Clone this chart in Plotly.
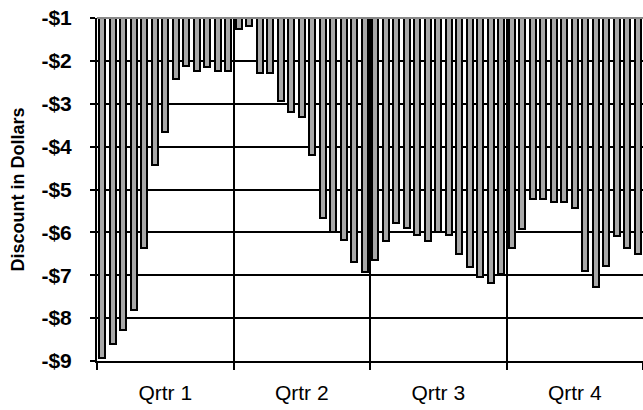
import plotly.graph_objects as go

# Weekly discount values (dollars), 13 weeks per quarter
q1 = [-8.93, -8.60, -8.28, -7.80, -6.37, -4.42, -3.65, -2.42, -2.12, -2.23, -2.15, -2.23, -2.23]
q2 = [-1.26, -1.19, -2.28, -2.28, -2.93, -3.20, -3.32, -4.20, -5.66, -6.00, -6.17, -6.70, -6.93]
q3 = [-6.65, -6.19, -5.79, -5.90, -6.07, -6.19, -5.98, -6.07, -6.51, -6.81, -7.05, -7.19, -6.97]
q4 = [-6.37, -5.93, -5.21, -5.21, -5.30, -5.30, -5.42, -6.90, -7.28, -6.79, -6.09, -6.37, -6.51]

quarter_labels = ["Qrtr 1", "Qrtr 2", "Qrtr 3", "Qrtr 4"]
y_tick_values = [-9, -8, -7, -6, -5, -4, -3, -2, -1]
y_tick_labels = ["-$9", "-$8", "-$7", "-$6", "-$5", "-$4", "-$3", "-$2", "-$1"]
y_title = "Discount in Dollars"

values = q1 + q2 + q3 + q4
weeks = list(range(1, len(values) + 1))
weeks_per_q = len(q1)
quarter_centers = [weeks_per_q * i + (weeks_per_q + 1) / 2 for i in range(4)]

fig = go.Figure()
fig.add_trace(go.Bar(
    x=weeks, y=values,
    width=0.55,
    marker=dict(color="#a8a8a8", line=dict(color="black", width=2)),
    showlegend=False,
))

fig.update_layout(
    width=643, height=410,
    margin=dict(l=97, r=0, t=18, b=49, autoexpand=False),
    paper_bgcolor="white", plot_bgcolor="white",
    bargap=0,
    font=dict(family="Liberation Sans, Arial, sans-serif", color="black"),
    xaxis=dict(
        range=[0.5, len(values) + 0.5],
        automargin=False,
        tickmode="array", tickvals=quarter_centers, ticktext=quarter_labels,
        ticks="", showgrid=False, zeroline=False,
        showline=True, linecolor="black", linewidth=2,
        tickfont=dict(size=21),
        ticklabelstandoff=12,
        ticklabeloverflow="allow",
        minor=dict(tickmode="linear", tick0=0.5, dtick=weeks_per_q,
                   ticks="outside", ticklen=7, tickwidth=2, tickcolor="black",
                   showgrid=True, gridcolor="black", gridwidth=2),
    ),
    yaxis=dict(
        range=[-9, -1],
        automargin=False,
        tickmode="array", tickvals=y_tick_values, ticktext=y_tick_labels,
        ticks="outside", ticklen=5, tickwidth=2, tickcolor="black",
        showgrid=True, gridcolor="black", gridwidth=2,
        zeroline=False,
        showline=True, linecolor="black", linewidth=2,
        tickfont=dict(size=21, weight="bold"),
        ticklabelstandoff=14,
        ticklabeloverflow="allow",
        title=dict(text=y_title, font=dict(size=18, weight="bold"), standoff=12),
    ),
    shapes=[dict(type="line", xref="paper", yref="paper", x0=0, x1=1, y0=1, y1=1,
                 line=dict(color="#888888", width=2))],
)

fig.write_html("out.html", config={"displayModeBar": False},
               post_script="document.body.style.margin='0';")
